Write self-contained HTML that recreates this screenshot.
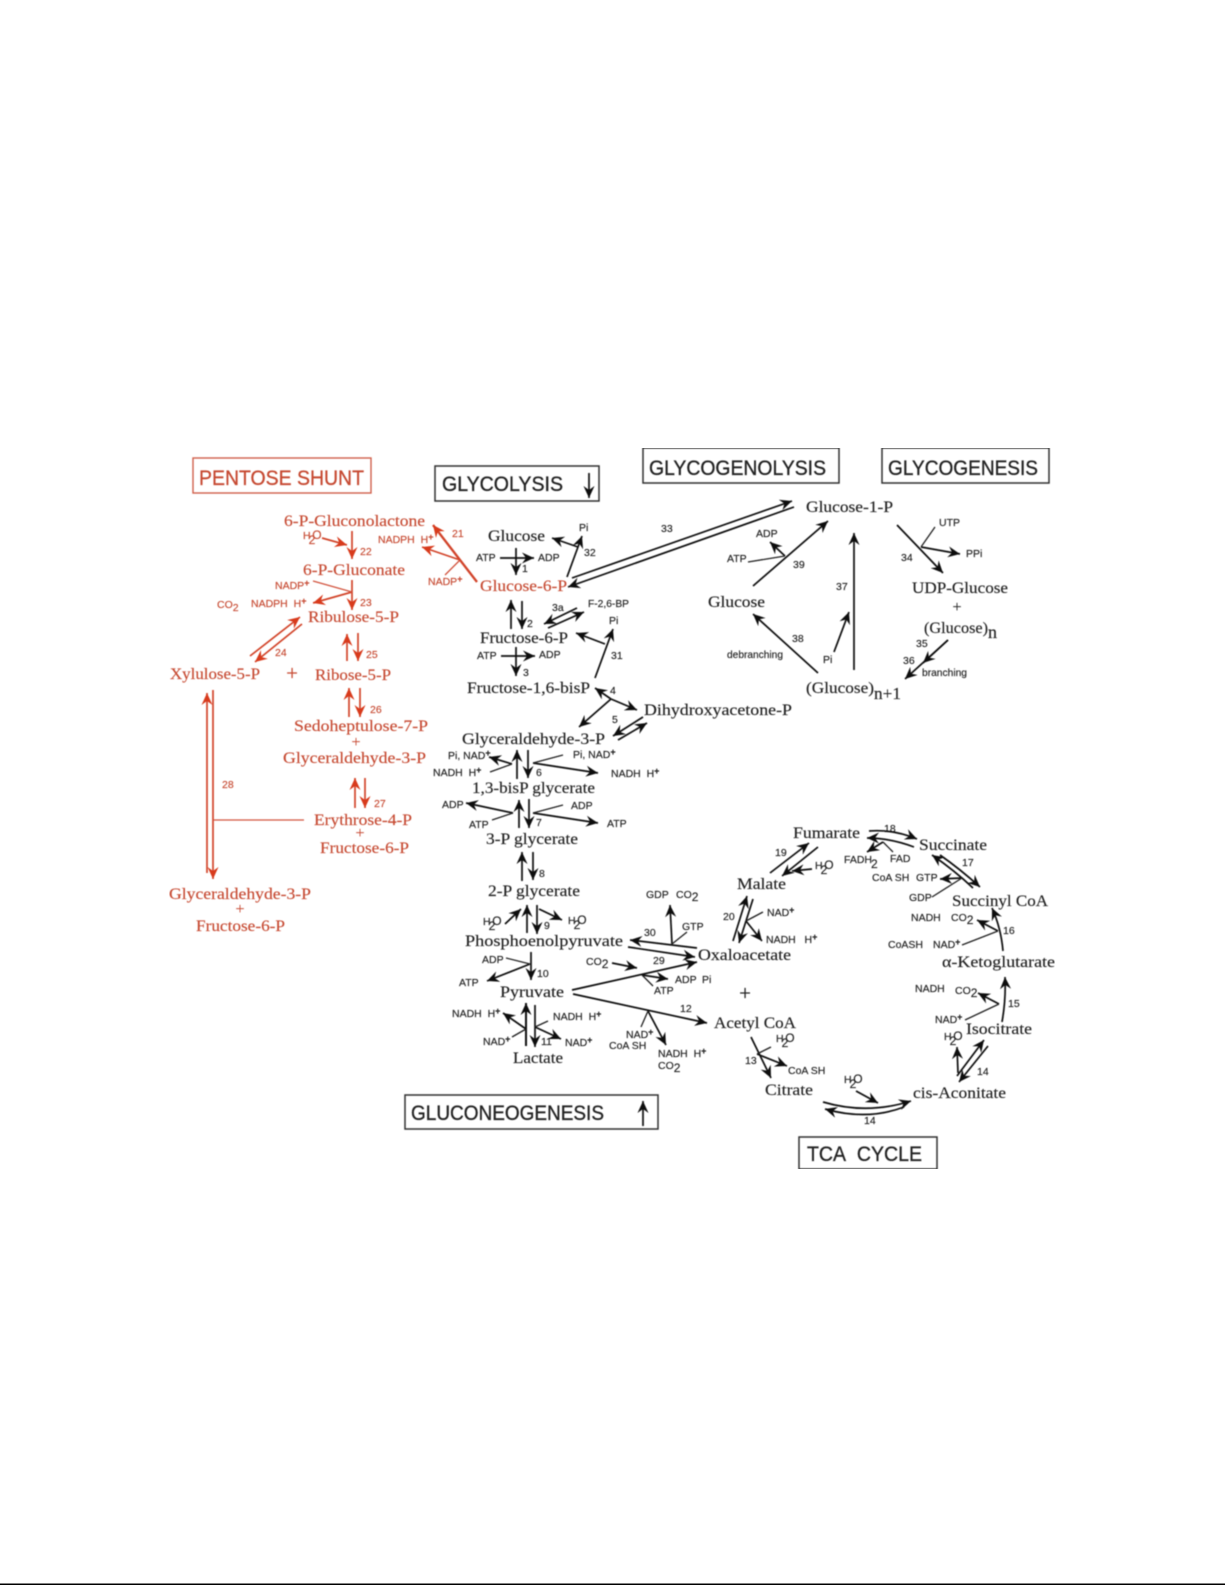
<!DOCTYPE html>
<html><head><meta charset="utf-8"><title>Metabolic pathways</title>
<style>
html,body{margin:0;padding:0;background:#fff;width:1225px;height:1585px;overflow:hidden}
svg{display:block}
text{fill:#222;stroke:#222;stroke-width:.15}
.n{font:16px "Liberation Serif",serif}
.s{font:10.5px "Liberation Sans",sans-serif}
.h{font:21px "Liberation Sans",sans-serif;stroke-width:.3}
.r text{fill:#c64a32;stroke:#c64a32}
.a path{fill:none;stroke:#111;stroke-width:1.7;marker-end:url(#k)}
.l path{fill:none;stroke:#222;stroke-width:1.3}
.r .a path{stroke:#d2452c;marker-end:url(#e)}
.r .l path{stroke:#d2553f}
</style></head><body>
<svg width="1225" height="1585" viewBox="0 0 1225 1585" xmlns="http://www.w3.org/2000/svg">
<defs>
<filter id="b" x="0" y="0" width="100%" height="100%"><feGaussianBlur stdDeviation="0.4"/></filter>
<marker id="k" markerUnits="userSpaceOnUse" markerWidth="15" markerHeight="13" refX="13" refY="6.5" orient="auto"><path d="M13 6.5L1 1L5 6.5L1 12Z" fill="#111"/></marker>
<marker id="e" markerUnits="userSpaceOnUse" markerWidth="15" markerHeight="13" refX="13" refY="6.5" orient="auto"><path d="M13 6.5L1 1L5 6.5L1 12Z" fill="#d83a1e"/></marker>
</defs>
<rect x="0" y="1583.5" width="1225" height="1.5" fill="#000"/>
<g filter="url(#b)">

<!-- PENTOSE SHUNT (red) -->
<g class="r">
<rect x="193" y="458" width="178" height="35" fill="none" stroke="#d0604c" stroke-width="1.4"/>
<text class="h" x="199" y="485" textLength="165" lengthAdjust="spacingAndGlyphs">PENTOSE SHUNT</text>
<g class="n">
<text class="n" x="284" y="526" textLength="141" lengthAdjust="spacingAndGlyphs">6-P-Gluconolactone</text>
<text class="n" x="303" y="575" textLength="102" lengthAdjust="spacingAndGlyphs">6-P-Gluconate</text>
<text class="n" x="308" y="622" textLength="91" lengthAdjust="spacingAndGlyphs">Ribulose-5-P</text>
<text class="n" x="170" y="679" textLength="90" lengthAdjust="spacingAndGlyphs">Xylulose-5-P</text>
<text class="n" x="315" y="680" textLength="76" lengthAdjust="spacingAndGlyphs">Ribose-5-P</text>
<text class="n" x="294" y="731" textLength="134" lengthAdjust="spacingAndGlyphs">Sedoheptulose-7-P</text>
<text class="n" x="283" y="763" textLength="143" lengthAdjust="spacingAndGlyphs">Glyceraldehyde-3-P</text>
<text class="n" x="314" y="825" textLength="98" lengthAdjust="spacingAndGlyphs">Erythrose-4-P</text>
<text class="n" x="320" y="853" textLength="89" lengthAdjust="spacingAndGlyphs">Fructose-6-P</text>
<text class="n" x="169" y="899" textLength="142" lengthAdjust="spacingAndGlyphs">Glyceraldehyde-3-P</text>
<text class="n" x="196" y="931" textLength="89" lengthAdjust="spacingAndGlyphs">Fructose-6-P</text>
<text class="n" x="356" y="747" text-anchor="middle">+</text>
<text class="n" x="360" y="838" text-anchor="middle">+</text>
<text class="n" x="240" y="914" text-anchor="middle">+</text>
<text class="n" x="292" y="680" text-anchor="middle" style="font-size:21px">+</text>
<text class="n" x="480" y="591" textLength="87" lengthAdjust="spacingAndGlyphs">Glucose-6-P</text>
</g>
<g>
<text class="s" x="303" y="539">H<tspan dx="-2" dy="5" font-size="12">2</tspan><tspan dx="-3" dy="-5" font-size="12">O</tspan></text>
<text class="s" x="360" y="555">22</text><text class="s" x="360" y="606">23</text><text class="s" x="275" y="656">24</text><text class="s" x="366" y="658">25</text>
<text class="s" x="370" y="713">26</text><text class="s" x="374" y="807">27</text><text class="s" x="222" y="788">28</text><text class="s" x="452" y="537">21</text>
<text class="s" x="378" y="543">NADPH&#160;&#160;H<tspan dy="-3" font-size="9" font-weight="bold">+</tspan></text>
<text class="s" x="428" y="585">NADP<tspan dy="-3" font-size="9" font-weight="bold">+</tspan></text>
<text class="s" x="275" y="589">NADP<tspan dy="-3" font-size="9" font-weight="bold">+</tspan></text>
<text class="s" x="251" y="607">NADPH&#160;&#160;H<tspan dy="-3" font-size="9" font-weight="bold">+</tspan></text>
<text class="s" x="217" y="608">CO<tspan dy="3">2</tspan></text>
</g>
<g class="a">
<path d="M322 538L347 545"/><path d="M352 531V559"/><path d="M352 580V610"/>
<path d="M352 592L313 603"/><path d="M250 656L300 617"/><path d="M302 624L255 662"/>
<path d="M347 661V634"/><path d="M358 633V661"/><path d="M349 717V688"/><path d="M360 688V717"/>
<path d="M355 808V778"/><path d="M365 778V808"/><path d="M207 873V693"/><path d="M213 690V879"/>
<path d="M477 582L433 525" style="stroke-width:2.3"/><path d="M460 560L422 547"/>
</g>
<g class="l">
<path d="M313 581L352 592"/><path d="M445 575L460 560"/><path d="M213 820H304"/>
</g>
</g>

<!-- Title boxes -->
<g fill="none" stroke="#333" stroke-width="1.5">
<rect x="435" y="466" width="164" height="35"/>
<rect x="643" y="448" width="196" height="35"/>
<rect x="882" y="448" width="167" height="35"/>
<rect x="405" y="1095" width="253" height="34"/>
<rect x="799" y="1137" width="138" height="32"/>
</g>
<g>
<text class="h" x="442" y="491" textLength="121" lengthAdjust="spacingAndGlyphs">GLYCOLYSIS</text>
<text class="h" x="649" y="475" textLength="177" lengthAdjust="spacingAndGlyphs">GLYCOGENOLYSIS</text>
<text class="h" x="888" y="475" textLength="150" lengthAdjust="spacingAndGlyphs">GLYCOGENESIS</text>
<text class="h" x="411" y="1120" textLength="193" lengthAdjust="spacingAndGlyphs">GLUCONEOGENESIS</text>
<text class="h" x="807" y="1161" textLength="115" lengthAdjust="spacingAndGlyphs">TCA&#160;&#160;CYCLE</text>
</g>

<!-- Metabolite names -->
<g>
<text class="n" x="488" y="541" textLength="57" lengthAdjust="spacingAndGlyphs">Glucose</text>
<text class="n" x="480" y="643" textLength="88" lengthAdjust="spacingAndGlyphs">Fructose-6-P</text>
<text class="n" x="467" y="693" textLength="123" lengthAdjust="spacingAndGlyphs">Fructose-1,6-bisP</text>
<text class="n" x="644" y="715" textLength="148" lengthAdjust="spacingAndGlyphs">Dihydroxyacetone-P</text>
<text class="n" x="462" y="744" textLength="143" lengthAdjust="spacingAndGlyphs">Glyceraldehyde-3-P</text>
<text class="n" x="472" y="793" textLength="123" lengthAdjust="spacingAndGlyphs">1,3-bisP glycerate</text>
<text class="n" x="486" y="844" textLength="92" lengthAdjust="spacingAndGlyphs">3-P glycerate</text>
<text class="n" x="488" y="896" textLength="92" lengthAdjust="spacingAndGlyphs">2-P glycerate</text>
<text class="n" x="465" y="946" textLength="158" lengthAdjust="spacingAndGlyphs">Phosphoenolpyruvate</text>
<text class="n" x="698" y="960" textLength="93" lengthAdjust="spacingAndGlyphs">Oxaloacetate</text>
<text class="n" x="500" y="997" textLength="64" lengthAdjust="spacingAndGlyphs">Pyruvate</text>
<text class="n" x="513" y="1063" textLength="50" lengthAdjust="spacingAndGlyphs">Lactate</text>
<text class="n" x="714" y="1028" textLength="82" lengthAdjust="spacingAndGlyphs">Acetyl CoA</text>
<text class="n" x="806" y="512" textLength="87" lengthAdjust="spacingAndGlyphs">Glucose-1-P</text>
<text class="n" x="708" y="607" textLength="57" lengthAdjust="spacingAndGlyphs">Glucose</text>
<text class="n" x="806" y="693" textLength="68" lengthAdjust="spacingAndGlyphs">(Glucose)</text>
<text class="n" x="874" y="699" textLength="27" lengthAdjust="spacingAndGlyphs" style="font-size:17px">n+1</text>
<text class="n" x="912" y="593" textLength="96" lengthAdjust="spacingAndGlyphs">UDP-Glucose</text>
<text class="n" x="957" y="612" text-anchor="middle">+</text>
<text class="n" x="924" y="633" textLength="64" lengthAdjust="spacingAndGlyphs">(Glucose)</text>
<text class="n" x="988" y="638" style="font-size:18px">n</text>
<text class="n" x="793" y="838" textLength="67" lengthAdjust="spacingAndGlyphs">Fumarate</text>
<text class="n" x="919" y="850" textLength="68" lengthAdjust="spacingAndGlyphs">Succinate</text>
<text class="n" x="737" y="889" textLength="49" lengthAdjust="spacingAndGlyphs">Malate</text>
<text class="n" x="952" y="906" textLength="96" lengthAdjust="spacingAndGlyphs">Succinyl CoA</text>
<text class="n" x="942" y="967" textLength="113" lengthAdjust="spacingAndGlyphs">α-Ketoglutarate</text>
<text class="n" x="966" y="1034" textLength="66" lengthAdjust="spacingAndGlyphs">Isocitrate</text>
<text class="n" x="913" y="1098" textLength="93" lengthAdjust="spacingAndGlyphs">cis-Aconitate</text>
<text class="n" x="765" y="1095" textLength="48" lengthAdjust="spacingAndGlyphs">Citrate</text>
<text class="n" x="745" y="1000" text-anchor="middle" style="font-size:21px">+</text>
</g>

<!-- Small labels -->
<g>
<text class="s" x="579" y="531">Pi</text><text class="s" x="584" y="556">32</text><text class="s" x="476" y="561">ATP</text><text class="s" x="538" y="561">ADP</text>
<text class="s" x="522" y="572">1</text><text class="s" x="661" y="532">33</text><text class="s" x="527" y="627">2</text><text class="s" x="552" y="611">3a</text>
<text class="s" x="588" y="607" textLength="41" lengthAdjust="spacingAndGlyphs">F-2,6-BP</text><text class="s" x="609" y="624">Pi</text><text class="s" x="611" y="659">31</text>
<text class="s" x="477" y="659">ATP</text><text class="s" x="539" y="658">ADP</text><text class="s" x="523" y="676">3</text>
<text class="s" x="610" y="694">4</text><text class="s" x="612" y="723">5</text>
<text class="s" x="448" y="759">Pi, NAD<tspan dy="-3" font-size="9" font-weight="bold">+</tspan></text>
<text class="s" x="433" y="776">NADH&#160;&#160;H<tspan dy="-3" font-size="9" font-weight="bold">+</tspan></text>
<text class="s" x="536" y="776">6</text>
<text class="s" x="573" y="758">Pi, NAD<tspan dy="-3" font-size="9" font-weight="bold">+</tspan></text>
<text class="s" x="611" y="777">NADH&#160;&#160;H<tspan dy="-3" font-size="9" font-weight="bold">+</tspan></text>
<text class="s" x="442" y="808">ADP</text><text class="s" x="469" y="828">ATP</text><text class="s" x="536" y="826">7</text><text class="s" x="571" y="809">ADP</text><text class="s" x="607" y="827">ATP</text>
<text class="s" x="539" y="877">8</text><text class="s" x="544" y="929">9</text>
<text class="s" x="483" y="925">H<tspan dx="-2" dy="5" font-size="12">2</tspan><tspan dx="-3" dy="-5" font-size="12">O</tspan></text>
<text class="s" x="568" y="924">H<tspan dx="-2" dy="5" font-size="12">2</tspan><tspan dx="-3" dy="-5" font-size="12">O</tspan></text>
<text class="s" x="644" y="936">30</text>
<text class="s" x="646" y="898">GDP</text><text class="s" x="676" y="898">CO<tspan dy="3" font-size="12">2</tspan></text>
<text class="s" x="682" y="930">GTP</text>
<text class="s" x="482" y="963">ADP</text><text class="s" x="459" y="986">ATP</text><text class="s" x="537" y="977">10</text>
<text class="s" x="586" y="965">CO<tspan dy="3" font-size="12">2</tspan></text>
<text class="s" x="653" y="964">29</text><text class="s" x="654" y="994">ATP</text><text class="s" x="675" y="983">ADP</text><text class="s" x="702" y="983">Pi</text>
<text class="s" x="452" y="1017">NADH&#160;&#160;H<tspan dy="-3" font-size="9" font-weight="bold">+</tspan></text>
<text class="s" x="483" y="1045">NAD<tspan dy="-3" font-size="9" font-weight="bold">+</tspan></text>
<text class="s" x="553" y="1020">NADH&#160;&#160;H<tspan dy="-3" font-size="9" font-weight="bold">+</tspan></text>
<text class="s" x="565" y="1046">NAD<tspan dy="-3" font-size="9" font-weight="bold">+</tspan></text>
<text class="s" x="541" y="1045">11</text><text class="s" x="680" y="1012">12</text>
<text class="s" x="626" y="1038">NAD<tspan dy="-3" font-size="9" font-weight="bold">+</tspan></text>
<text class="s" x="609" y="1049">CoA SH</text>
<text class="s" x="658" y="1057">NADH&#160;&#160;H<tspan dy="-3" font-size="9" font-weight="bold">+</tspan></text>
<text class="s" x="658" y="1069">CO<tspan dy="3" font-size="12">2</tspan></text>
<text class="s" x="756" y="537">ADP</text><text class="s" x="727" y="562">ATP</text><text class="s" x="793" y="568">39</text><text class="s" x="836" y="590">37</text>
<text class="s" x="823" y="663">Pi</text><text class="s" x="792" y="642">38</text><text class="s" x="727" y="658" textLength="56" lengthAdjust="spacingAndGlyphs">debranching</text>
<text class="s" x="939" y="526">UTP</text><text class="s" x="966" y="557">PPi</text><text class="s" x="901" y="561">34</text>
<text class="s" x="916" y="647">35</text><text class="s" x="903" y="664">36</text><text class="s" x="922" y="676" textLength="45" lengthAdjust="spacingAndGlyphs">branching</text>
<text class="s" x="884" y="832">18</text>
<text class="s" x="844" y="863">FADH</text><text class="s" x="871" y="868" style="font-size:12px">2</text><text class="s" x="890" y="862">FAD</text>
<text class="s" x="962" y="866">17</text><text class="s" x="872" y="881">CoA SH</text><text class="s" x="916" y="881">GTP</text><text class="s" x="909" y="901">GDP</text>
<text class="s" x="911" y="921">NADH</text><text class="s" x="951" y="921">CO<tspan dy="3" font-size="12">2</tspan></text>
<text class="s" x="1003" y="934">16</text><text class="s" x="888" y="948">CoASH</text>
<text class="s" x="933" y="948">NAD<tspan dy="-3" font-size="9" font-weight="bold">+</tspan></text>
<text class="s" x="915" y="992">NADH</text><text class="s" x="955" y="994">CO<tspan dy="3" font-size="12">2</tspan></text>
<text class="s" x="1008" y="1007">15</text>
<text class="s" x="775" y="856">19</text><text class="s" x="815" y="869">H<tspan dx="-2" dy="5" font-size="12">2</tspan><tspan dx="-3" dy="-5" font-size="12">O</tspan></text>
<text class="s" x="723" y="920">20</text>
<text class="s" x="767" y="916">NAD<tspan dy="-3" font-size="9" font-weight="bold">+</tspan></text>
<text class="s" x="766" y="943">NADH&#160;&#160;&#160;H<tspan dy="-3" font-size="9" font-weight="bold">+</tspan></text>
<text class="s" x="935" y="1023">NAD<tspan dy="-3" font-size="9" font-weight="bold">+</tspan></text>
<text class="s" x="944" y="1040">H<tspan dx="-2" dy="5" font-size="12">2</tspan><tspan dx="-3" dy="-5" font-size="12">O</tspan></text>
<text class="s" x="977" y="1075">14</text><text class="s" x="745" y="1064">13</text>
<text class="s" x="776" y="1042">H<tspan dx="-2" dy="5" font-size="12">2</tspan><tspan dx="-3" dy="-5" font-size="12">O</tspan></text>
<text class="s" x="788" y="1074">CoA SH</text>
<text class="s" x="844" y="1083">H<tspan dx="-2" dy="5" font-size="12">2</tspan><tspan dx="-3" dy="-5" font-size="12">O</tspan></text>
<text class="s" x="864" y="1124">14</text>
</g>

<!-- Arrows -->
<g class="a">
<path d="M589 473V498"/><path d="M643 1126V1101"/>
<path d="M578 547L552 538"/><path d="M567 577L582 536"/><path d="M500 558H534"/><path d="M516 548V575"/>
<path d="M572 578L792 501"/><path d="M794 507L568 587"/>
<path d="M511 629V600"/><path d="M522 601V629"/><path d="M577 608L544 624"/><path d="M548 628L584 612"/>
<path d="M595 678L613 629"/><path d="M605 644L576 633"/><path d="M501 656H535"/><path d="M516 647V676"/>
<path d="M611 699L595 688"/><path d="M611 699L637 710"/><path d="M611 699L579 727"/>
<path d="M643 717L613 736"/><path d="M618 740L647 723"/>
<path d="M517 779V750"/><path d="M528 750V778"/><path d="M512 764L489 757"/><path d="M533 763L598 773"/>
<path d="M519 828V800"/><path d="M529 799V828"/><path d="M513 813L466 803"/><path d="M533 813L598 823"/>
<path d="M522 881V852"/><path d="M533 852V880"/>
<path d="M527 933V905"/><path d="M537 905V934"/><path d="M505 924L521 909"/><path d="M539 909L562 920"/>
<path d="M697 948L630 940"/><path d="M628 947L695 957"/><path d="M672 944L670 905"/>
<path d="M530 964L487 981"/><path d="M531 952V980"/><path d="M612 963L637 968"/>
<path d="M572 990L697 962"/><path d="M573 994L707 1023"/><path d="M642 975L668 979"/>
<path d="M526 1046V1003" style="stroke-width:2"/><path d="M535 1005V1047"/><path d="M526 1029L503 1013"/><path d="M535 1027L561 1039"/>
<path d="M648 1011L666 1045"/>
<path d="M753 586L828 521"/><path d="M785 556L770 542"/>
<path d="M854 670V533"/><path d="M834 652L849 612"/><path d="M818 673L753 614"/>
<path d="M897 525L943 573"/><path d="M921 547L960 554"/>
<path d="M948 640L905 679"/><path d="M948 640L923 663"/>
<path d="M869 831Q893 829 917 839"/><path d="M914 847Q890 838 867 838"/><path d="M883 842L867 852"/>
<path d="M973 888Q954 870 932 855"/><path d="M940 855Q960 869 980 887"/>
<path d="M962 878L940 879"/>
<path d="M1003 951Q1001 928 992 908"/><path d="M998 931L977 920"/>
<path d="M1002 1022Q1006 1000 1005 977"/><path d="M999 1004L978 993"/>
<path d="M770 873L809 843"/><path d="M818 847L782 876"/><path d="M812 869L792 871"/>
<path d="M733 941L747 896"/><path d="M753 899L739 943"/><path d="M746 921L762 941"/>
<path d="M958 1073L957 1047"/><path d="M957 1076L984 1040"/><path d="M988 1046L959 1082"/>
<path d="M751 1037L771 1078"/><path d="M757 1054L787 1066"/>
<path d="M856 1091L878 1103"/>
<path d="M823 1102Q867 1115 911 1101"/><path d="M904 1107Q867 1121 825 1109"/>
</g>

<!-- Plain lines -->
<g class="l">
<path d="M512 764L490 772"/><path d="M533 763L563 755"/>
<path d="M513 813L492 820"/><path d="M533 813L563 805"/>
<path d="M672 944L687 932"/>
<path d="M506 958L530 964"/><path d="M642 975L653 986"/>
<path d="M512 1037L526 1029"/><path d="M535 1027L548 1021"/>
<path d="M648 1011L641 1027"/>
<path d="M748 562L785 556"/><path d="M935 527L921 547"/>
<path d="M883 842L893 852"/><path d="M962 878L932 897"/>
<path d="M998 931L962 945"/><path d="M999 1004L965 1020"/>
<path d="M746 921L763 912"/>
<path d="M757 1054L771 1047"/>
</g>
</g>
</svg>
</body></html>
